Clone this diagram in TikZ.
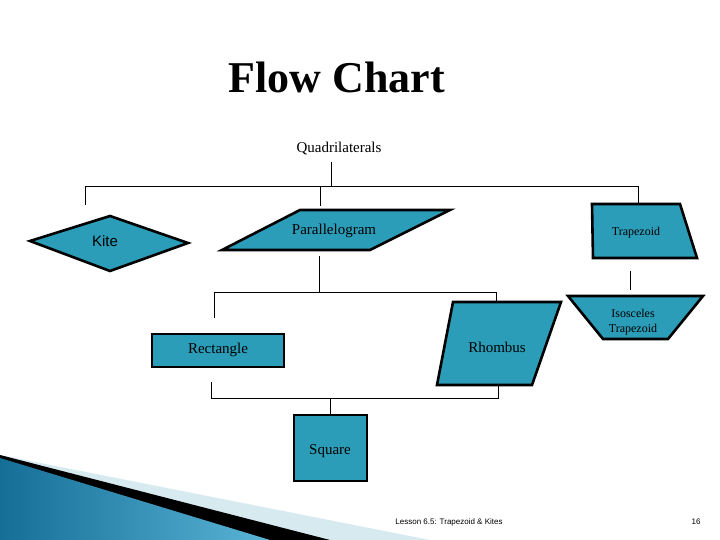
\documentclass[tikz,border=0pt]{standalone}
\usepackage{fontspec}
\setmainfont{Liberation Serif}
\setsansfont{Liberation Sans}
\usepackage{tikz}
\definecolor{boxfill}{RGB}{43,157,184}
\definecolor{swooshlight}{RGB}{214,234,240}
\definecolor{swooshdark}{RGB}{20,110,150}
\definecolor{swooshmid}{RGB}{90,180,215}
\tikzset{
  quadbox/.style={fill=boxfill, draw=black, line width=2.6pt, line join=miter},
  link/.style={draw=black, line width=0.6pt},
  lbl/.style={font=\fontsize{15}{16}\selectfont},
}
\begin{document}
\begin{tikzpicture}[x=1pt, y=-1pt]
\useasboundingbox (0,0) rectangle (720,540);
\fill[white] (0,0) rectangle (720,540);
% swoosh
\fill[swooshlight] (0,455) -- (430,540) -- (0,540) -- cycle;
\fill[black] (0,455) -- (330,540) -- (0,540) -- cycle;
\shade[left color=swooshdark, right color=swooshmid] (0,458) -- (270,540) -- (0,540) -- cycle;
% title
\node[font=\bfseries\fontsize{44}{46}\selectfont] (title) at (337,77) {Flow Chart};
\node[lbl] (quad) at (339,149) {Quadrilaterals};
% shapes
\draw[quadbox] (30,241) -- (110,216) -- (188,243) -- (110,271) -- cycle;
\node[font=\sffamily\fontsize{15}{16}\selectfont] (kite) at (105,241) {Kite};
\draw[quadbox] (300,210) -- (450,210) -- (370,250) -- (222,250) -- cycle;
\node[lbl] (para) at (334,231) {Parallelogram};
\draw[quadbox] (592,204) -- (680,204) -- (697,258) -- (593,258) -- cycle;
\node[font=\fontsize{12}{13}\selectfont] (trap) at (636,233) {Trapezoid};
\draw[quadbox] (568,296) -- (703,296) -- (668,339) -- (603,339) -- cycle;
\node[font=\fontsize{12}{15}\selectfont, align=center] (iso) at (633,322) {Isosceles\\Trapezoid};
\draw[quadbox] (453,302) -- (561,302) -- (532,385) -- (437,385) -- cycle;
\node[lbl] (rhom) at (497,347) {Rhombus};
\draw[quadbox] (152,334) rectangle (284,367);
\node[lbl] (rect) at (218,350) {Rectangle};
\draw[quadbox] (294,415) rectangle (367,481);
\node[lbl] (sq) at (330,451) {Square};
% junctions
\coordinate (q0) at (331,162);
\coordinate (q1) at (331,186);
\coordinate (qk) at (85,186);
\coordinate (qk1) at (85,205);
\coordinate (qp) at (320,186);
\coordinate (qp1) at (320,206);
\coordinate (qt) at (638,186);
\coordinate (qt1) at (638,204);
\coordinate (p0) at (319,256);
\coordinate (p1) at (319,292);
\coordinate (pr) at (214,292);
\coordinate (pr1) at (214,318);
\coordinate (ph) at (496,292);
\coordinate (ph1) at (496,302);
\coordinate (t0) at (630,271);
\coordinate (t1) at (630,290);
\coordinate (r0) at (211,382);
\coordinate (r1) at (211,398);
\coordinate (h1) at (498,398);
\coordinate (h0) at (498,386);
\coordinate (s0) at (330,398);
\coordinate (s1) at (330,415);
% connectors
\draw[link] (q0) -- (q1);
\draw[link] (qk1) -- (qk) -- (qt) -- (qt1);
\draw[link] (qp) -- (qp1);
\draw[link] (p0) -- (p1);
\draw[link] (pr1) -- (pr) -- (ph) -- (ph1);
\draw[link] (t0) -- (t1);
\draw[link] (r0) -- (r1) -- (h1) -- (h0);
\draw[link] (s0) -- (s1);
% footer
\node[font=\sffamily\fontsize{8}{9}\selectfont] (foot) at (449,522) {Lesson 6.5: Trapezoid \& Kites};
\node[font=\sffamily\fontsize{8}{9}\selectfont] (page) at (696,522) {16};
\end{tikzpicture}
\end{document}
